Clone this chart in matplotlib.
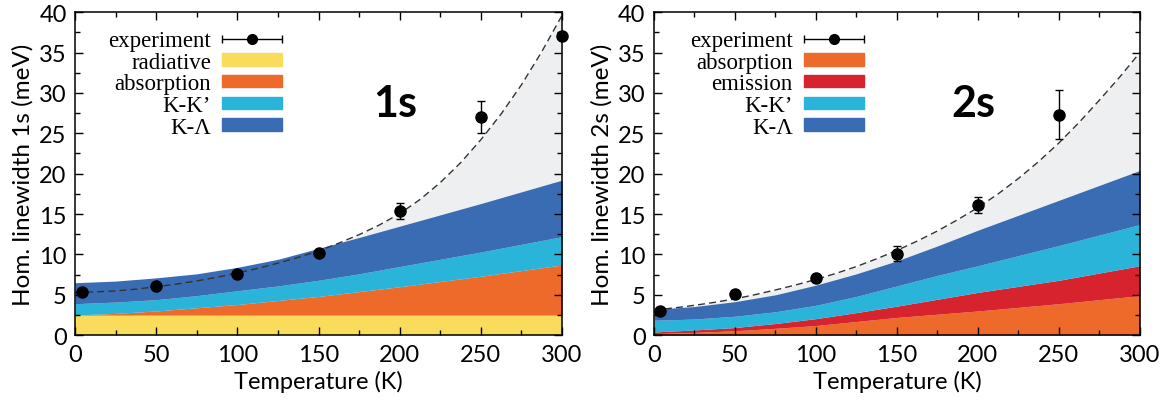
import matplotlib
matplotlib.use("Agg")
import matplotlib.pyplot as plt
import numpy as np
from matplotlib.container import ErrorbarContainer
from matplotlib.legend_handler import HandlerErrorbar
from matplotlib.patches import Patch
from matplotlib.ticker import MultipleLocator

plt.rcParams["font.family"] = ["Lato", "DejaVu Sans"]

# temperature grid for the scattering contributions (K)
T = np.array([0, 25, 50, 75, 100, 125, 150, 175, 200, 225, 250, 275, 300])
# finer grid for the fitted total linewidth (K)
T_fit = np.arange(0, 300.1, 12.5)

# --- 1s exciton: scattering contributions (meV), stacked bottom to top
rad_1s = np.full(len(T), 2.5)
abs_1s = np.array([0.0, 0.2, 0.5, 0.9, 1.3, 1.8, 2.3, 2.9, 3.5, 4.15, 4.8, 5.5, 6.2])
kk_1s = np.array([1.4, 1.4, 1.4, 1.5, 1.7, 1.8, 2.0, 2.2, 2.5, 2.75, 3.0, 3.25, 3.5])
kl_1s = np.array([2.6, 2.6, 2.7, 2.7, 2.9, 3.3, 3.95, 4.5, 5.0, 5.5, 6.0, 6.5, 7.0])
fit_1s = np.array([5.30, 5.36, 5.48, 5.70, 6.00, 6.33, 6.72, 7.18, 7.70, 8.27,
                   8.92, 9.63, 10.45, 11.40, 12.45, 13.65, 15.05, 16.80, 18.90,
                   21.35, 24.20, 27.40, 31.00, 35.10, 39.60])

T_exp_1s = np.array([4, 50, 100, 150, 200, 250, 300])
exp_1s = np.array([5.3, 6.1, 7.6, 10.2, 15.4, 27.0, 37.0])
err_1s = np.array([0.3, 0.3, 0.3, 0.4, 1.0, 2.0, 0.3])

# --- 2s exciton
abs_2s = np.array([0.2, 0.35, 0.55, 0.85, 1.2, 1.7, 2.2, 2.6, 3.0, 3.45, 3.9, 4.4, 4.9])
em_2s = np.array([0.2, 0.3, 0.4, 0.6, 0.85, 1.1, 1.4, 1.85, 2.3, 2.6, 2.9, 3.3, 3.7])
kk_2s = np.array([1.45, 1.35, 1.4, 1.45, 1.65, 2.0, 2.5, 2.95, 3.3, 3.8, 4.3, 4.7, 5.1])
kl_2s = np.array([1.35, 1.55, 1.8, 2.1, 2.5, 2.8, 3.1, 3.65, 4.4, 5.0, 5.6, 6.15, 6.7])
fit_2s = np.array([3.10, 3.38, 3.70, 4.07, 4.50, 5.02, 5.60, 6.22, 6.90, 7.66,
                   8.50, 9.46, 10.50, 11.65, 12.90, 14.30, 15.80, 17.50, 19.40,
                   21.50, 23.80, 26.35, 29.10, 31.95, 35.00])

T_exp_2s = np.array([4, 50, 100, 150, 200, 250])
exp_2s = np.array([3.0, 5.1, 7.1, 10.1, 16.1, 27.3])
err_2s = np.array([0.3, 0.3, 0.3, 0.9, 1.0, 3.0])

C_RAD = "#f9dc5c"
C_ABS = "#ee6a2a"
C_EM = "#d6232e"
C_KK = "#2ab4d9"
C_KL = "#3a6cb4"
C_GREY = "#eeeff1"

serif = {"family": "Liberation Serif", "size": 16.5}


def panel(ax, layers, fit, T_exp, y_exp, y_err, ylabel, tag, leg_x):
    # grey: part of the total not covered by the computed channels
    ax.fill_between(T_fit, 0, fit, color=C_GREY, lw=0)
    bottom = np.zeros(len(T))
    handles, labels = [], []
    for vals, color, name in layers:
        top = bottom + vals
        ax.fill_between(T, bottom, top, color=color, lw=0)
        handles.append(Patch(color=color))
        labels.append(name)
        bottom = top
    ax.plot(T_fit, fit, color="#333333", lw=1.0, dashes=(5, 3))
    ax.errorbar(T_exp, y_exp, yerr=y_err, fmt="o", color="black", ms=8,
                capsize=3, elinewidth=1, capthick=1, clip_on=False, zorder=5)

    # legend proxy for the experiment entry (horizontal bar style)
    proxy = ax.errorbar([np.nan], [np.nan], xerr=[1], fmt="o", color="black",
                        ms=7, capsize=3, elinewidth=1)
    handles = [proxy] + handles
    labels = ["experiment"] + labels
    ax.legend(handles, labels, loc="upper right", bbox_to_anchor=(leg_x, 0.945),
              frameon=False, markerfirst=False, prop=serif, handlelength=2.6,
              handleheight=0.45, labelspacing=0.03, handletextpad=0.5,
              borderpad=0, borderaxespad=0,
              handler_map={ErrorbarContainer: HandlerErrorbar(xerr_size=1.3)})

    ax.text(197, 28.7, tag, fontsize=31, fontweight="bold", ha="center", va="center")

    ax.set_xlim(0, 300)
    ax.set_ylim(0, 40)
    ax.xaxis.set_major_locator(MultipleLocator(50))
    ax.xaxis.set_minor_locator(MultipleLocator(25))
    ax.yaxis.set_major_locator(MultipleLocator(5))
    ax.yaxis.set_minor_locator(MultipleLocator(2.5))
    ax.tick_params(which="both", direction="in", top=True, right=True,
                   labelsize=17, width=1)
    ax.tick_params(which="major", length=6, pad=6)
    ax.tick_params(which="minor", length=3.5)
    for s in ax.spines.values():
        s.set_linewidth(1.1)
    ax.set_xlabel("Temperature (K)", fontsize=17, labelpad=4)
    ax.set_ylabel(ylabel, fontsize=17.5, labelpad=4)


fig = plt.figure(figsize=(11.69, 4.10), dpi=100)
ax1 = fig.add_axes([0.0642, 0.180, 0.4166, 0.788])
ax2 = fig.add_axes([0.5594, 0.180, 0.4157, 0.788])

panel(ax1,
      [(rad_1s, C_RAD, "radiative"), (abs_1s, C_ABS, "absorption"),
       (kk_1s, C_KK, "K-K\u2019"), (kl_1s, C_KL, "K-\u039b")],
      fit_1s, T_exp_1s, exp_1s, err_1s, "Hom. linewidth 1s (meV)", "1s", 0.425)
panel(ax2,
      [(abs_2s, C_ABS, "absorption"), (em_2s, C_EM, "emission"),
       (kk_2s, C_KK, "K-K\u2019"), (kl_2s, C_KL, "K-\u039b")],
      fit_2s, T_exp_2s, exp_2s, err_2s, "Hom. linewidth 2s (meV)", "2s", 0.432)

fig.savefig("out.png", dpi=100)
